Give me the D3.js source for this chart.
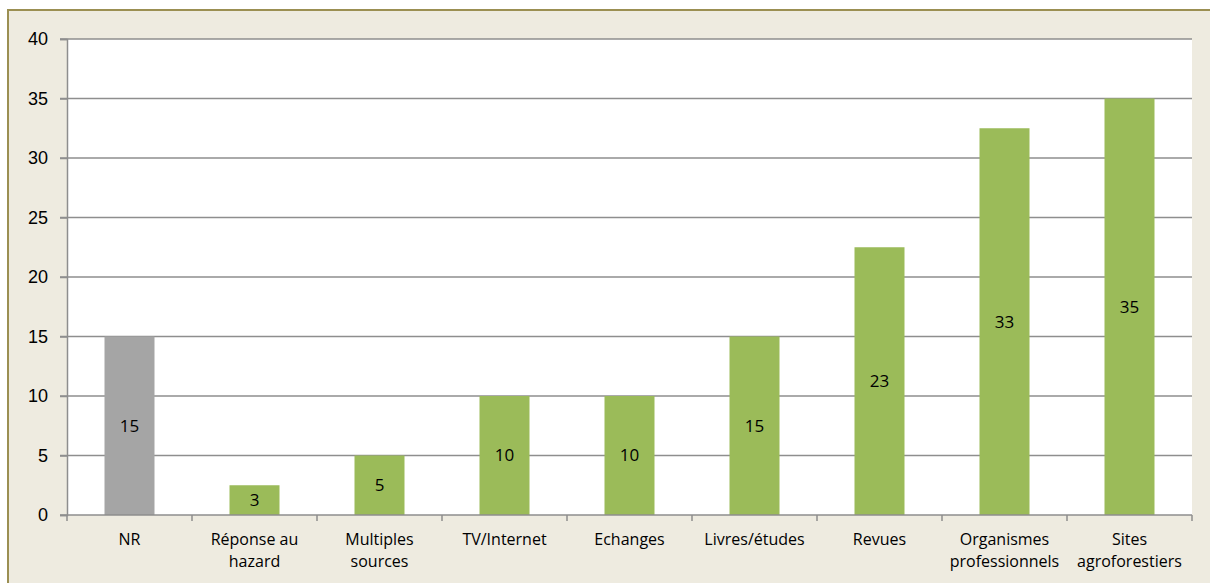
<!DOCTYPE html>
<html>
<head>
<meta charset="utf-8">
<script src="https://cdn.jsdelivr.net/npm/d3@7"></script>
<style>
  body { margin: 0; background: #fff; }
  svg { display: block; font-family: "Open Sans", "Liberation Sans", sans-serif; }
</style>
</head>
<body>
<div id="chart"></div>
<script>
const categories = ["NR", "Réponse au\nhazard", "Multiples\nsources", "TV/Internet", "Echanges",
  "Livres/études", "Revues", "Organismes\nprofessionnels", "Sites\nagroforestiers"];
const values = [15, 2.5, 5, 10, 10, 15, 22.5, 32.5, 35];
const labels = ["15", "3", "5", "10", "10", "15", "23", "33", "35"];
const colors = ["#a5a5a5", "#9bbb59", "#9bbb59", "#9bbb59", "#9bbb59", "#9bbb59", "#9bbb59", "#9bbb59", "#9bbb59"];
const yTicks = [0, 5, 10, 15, 20, 25, 30, 35, 40];

const width = 1210, height = 583;
const margin = { top: 39, right: 18, bottom: 68, left: 67 };

const svg = d3.select("#chart").append("svg")
  .attr("width", width)
  .attr("height", height);

// panel background and border
svg.append("rect").attr("x", 8).attr("y", 10).attr("width", width + 10).attr("height", height + 10)
  .attr("fill", "#eeebe0").attr("stroke", "#9b8f52").attr("stroke-width", 2);

const x = d3.scaleBand().domain(d3.range(categories.length))
  .range([margin.left, width - margin.right]).paddingInner(0.6).paddingOuter(0.3);
const xb = d3.scaleLinear().domain([0, categories.length]).range([margin.left, width - margin.right]);
const y = d3.scaleLinear().domain([0, 40]).range([height - margin.bottom, margin.top]);

svg.append("rect").attr("x", margin.left).attr("y", margin.top)
  .attr("width", width - margin.right - margin.left).attr("height", y(0) - margin.top)
  .attr("fill", "#fff");

// gridlines
svg.append("g").selectAll("line").data(yTicks.slice(1)).join("line")
  .attr("x1", margin.left - 7).attr("x2", width - margin.right)
  .attr("y1", d => y(d)).attr("y2", d => y(d))
  .attr("stroke", "#8e8e8e").attr("stroke-width", 1.5);

// bars
svg.append("g").selectAll("rect").data(values).join("rect")
  .attr("x", (d, i) => x(i)).attr("width", x.bandwidth())
  .attr("y", d => y(d)).attr("height", d => y(0) - y(d))
  .attr("fill", (d, i) => colors[i]);

// value labels
svg.append("g").selectAll("text").data(values).join("text")
  .attr("x", (d, i) => x(i) + x.bandwidth() / 2)
  .attr("y", d => y(d / 2))
  .attr("dy", "0.35em")
  .attr("text-anchor", "middle")
  .attr("font-size", 17).attr("fill", "#000")
  .text((d, i) => labels[i]);

// y axis
const yAxis = svg.append("g").attr("transform", `translate(${margin.left},0)`)
  .call(d3.axisLeft(y).tickValues(yTicks).tickSize(7).tickPadding(12));
yAxis.select(".domain").attr("stroke", "#8e8e8e").attr("stroke-width", 1.5);
yAxis.selectAll(".tick line").attr("stroke", "#8e8e8e").attr("stroke-width", 1.5);
yAxis.selectAll(".tick text").attr("font-size", 18).attr("fill", "#000").attr("font-family", null);

// x axis line and boundary ticks
const xg = svg.append("g");
xg.append("line").attr("x1", margin.left - 7).attr("x2", width - margin.right)
  .attr("y1", y(0)).attr("y2", y(0)).attr("stroke", "#8e8e8e").attr("stroke-width", 1.5);
xg.selectAll("line.tk").data(d3.range(categories.length + 1)).join("line").attr("class", "tk")
  .attr("x1", d => xb(d)).attr("x2", d => xb(d))
  .attr("y1", y(0)).attr("y2", y(0) + 6)
  .attr("stroke", "#8e8e8e").attr("stroke-width", 1.5);

const xl = xg.selectAll("text").data(categories).join("text")
  .attr("x", (d, i) => (xb(i) + xb(i + 1)) / 2)
  .attr("y", y(0) + 30)
  .attr("text-anchor", "middle")
  .attr("font-size", 16).attr("fill", "#000");
xl.each(function (d) {
  const t = d3.select(this);
  d.split("\n").forEach((s, k) => {
    t.append("tspan").attr("x", t.attr("x")).attr("dy", k === 0 ? 0 : 22).text(s);
  });
});
</script>
</body>
</html>
